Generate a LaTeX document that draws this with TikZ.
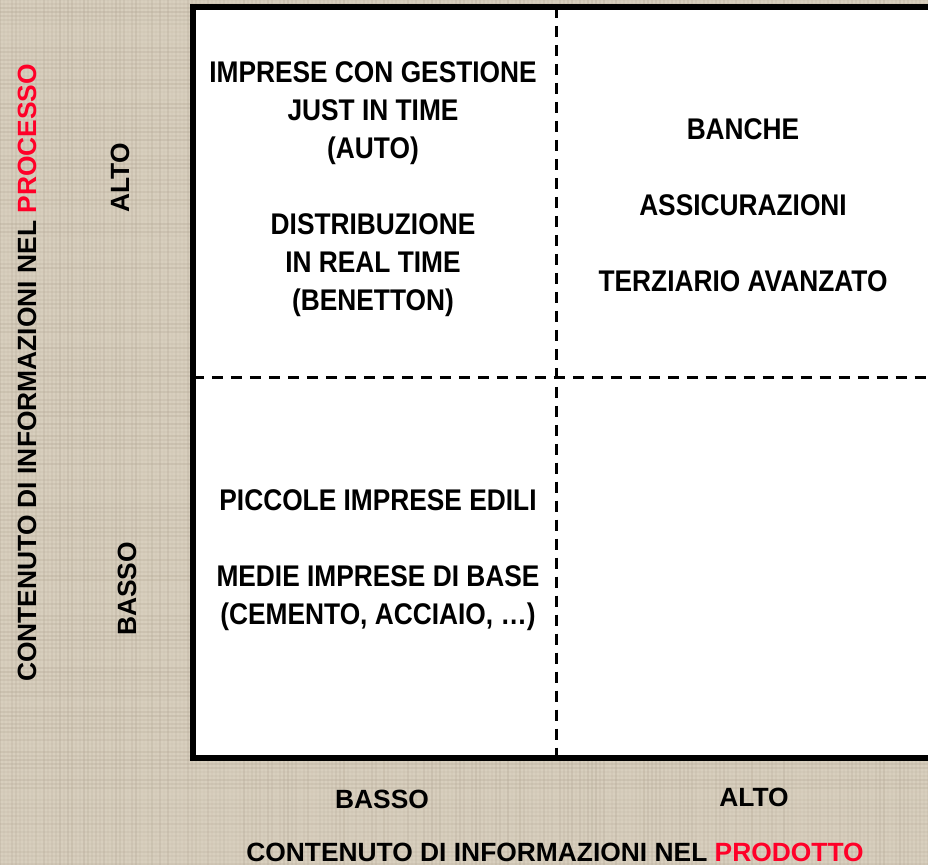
\documentclass[tikz,border=0pt]{standalone}
\usepackage{fontspec}
\setmainfont{Liberation Sans}
\newfontfamily\narrowfont{Liberation Sans}[FakeStretch=0.88]
\definecolor{canvas}{RGB}{216,207,190}
\definecolor{canvasline}{RGB}{180,168,150}
\definecolor{accent}{RGB}{255,0,40}
\begin{document}
\begin{tikzpicture}
[x=0.01cm, y=-0.01cm,
  axisdecorate/.style={font=\fontsize{7.5}{9}\selectfont\bfseries, inner sep=0pt},
  celldecorate/.style={font={\fontsize{8.5}{10.8}\narrowfont\bfseries},
    align=center, inner sep=0pt},
  framedecorate/.style={line width=1.7pt},
  dashdecorate/.style={line width=0.85pt, dash pattern=on 3.1pt off 2.3pt}]
%% background
\useasboundingbox (0,0) rectangle (928,865);
\fill[canvas] (0,0) rectangle (928,865);
\pgfmathsetseed{7}
\foreach \k in {0,4,...,928}
{
  \pgfmathsetmacro{\va}{0.05+0.3*rnd}
  \pgfmathsetmacro{\vb}{0.05+0.3*rnd}
  \draw[canvasline, line width=0.3pt, opacity=\va] (\k,0) -- (\k,865);
  \draw[canvasline, line width=0.3pt, opacity=\vb] (0,\k) -- (928,\k);
}
%% frame corners and quadrant borders
\foreach \pointname/\x/\y in {nw/193/7, ne/928/7, sw/193/758, se/928/758,
  n/556/7, s/556/758, w/193/378, e/928/378}
{
  \coordinate (\pointname) at (\x,\y);
}
\fill[white] (nw) rectangle (se);
\draw[framedecorate] (ne) -- (nw) -- (sw) -- (se);
\draw[dashdecorate] (n) -- (s);
\draw[dashdecorate] (w) -- (e);
%% quadrant contents
\foreach \nodename/\x/\y/\content in {
  cellhl/373/189/{IMPRESE CON GESTIONE\\JUST IN TIME\\(AUTO)\\[10.8pt]DISTRIBUZIONE\\IN REAL TIME\\(BENETTON)},
  cellhh/743/205/{BANCHE\\[10.8pt]ASSICURAZIONI\\[10.8pt]TERZIARIO AVANZATO},
  cellll/378/560/{PICCOLE IMPRESE EDILI\\[10.8pt]MEDIE IMPRESE DI BASE\\(CEMENTO, ACCIAIO, …)}}
{
  \node (\nodename) at (\x,\y) [celldecorate] {\content};
}
%% axis labels
\foreach \nodename/\x/\y/\angle/\content in {
  yhigh/120/178/90/ALTO, ylow/127/589/90/BASSO,
  xlow/382/799/0/BASSO, xhigh/754/797/0/ALTO,
  ytitle/27/373/90/{CONTENUTO DI INFORMAZIONI NEL \textcolor{accent}{PROCESSO}},
  xtitle/555/852/0/{CONTENUTO DI INFORMAZIONI NEL \textcolor{accent}{PRODOTTO}}}
{
  \node (\nodename) at (\x,\y) [axisdecorate, rotate=\angle] {\content};
}
\end{tikzpicture}
\end{document}
